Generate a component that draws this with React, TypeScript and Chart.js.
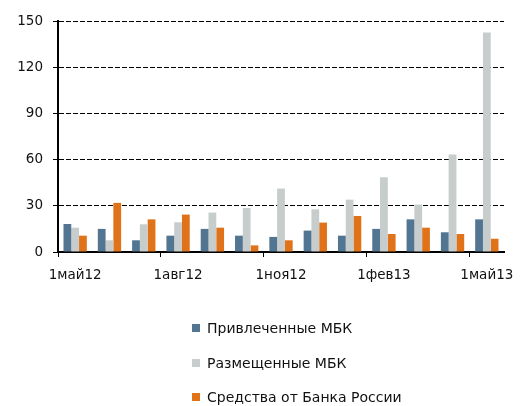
import React, { useEffect, useRef } from 'react';
import { Chart, registerables } from 'chart.js';

Chart.register(...registerables);

const categories = [
  '1май12', '1июн12', '1июл12', '1авг12', '1сен12', '1окт12', '1ноя12',
  '1дек12', '1янв13', '1фев13', '1мар13', '1апр13', '1май13',
];
const attracted = [18.2, 15, 7.6, 10.6, 15, 10.6, 9.8, 13.9, 10.6, 15, 21.2, 12.8, 21.2];
const placed = [15.8, 7.6, 18, 19.3, 25.6, 28.6, 41.2, 27.7, 34, 48.5, 30.8, 63.3, 142.5];
const fromCBR = [10.6, 31.9, 21.2, 24.3, 15.8, 4.3, 7.6, 19.1, 23.4, 11.7, 15.8, 11.7, 8.6];
const seriesNames = ['Привлеченные МБК', 'Размещенные МБК', 'Средства от Банка России'];
const seriesColors = ['#527592', '#C6CDCC', '#E0731A'];
const yMin = 0;
const yMax = 150;
const yStep = 30;
const labelEvery = 3;

const FONT = "'DejaVu Sans', sans-serif";

export default function App() {
  const ref = useRef<HTMLCanvasElement | null>(null);

  useEffect(() => {
    document.body.style.margin = '0';
    const canvas = ref.current;
    if (!canvas) return;
    const values = [attracted, placed, fromCBR];
    const chart = new Chart(canvas, {
      type: 'bar',
      data: {
        labels: categories,
        datasets: values.map((v, i) => ({
          label: seriesNames[i],
          data: v,
          backgroundColor: seriesColors[i],
          borderWidth: 0,
          categoryPercentage: 0.68,
          barPercentage: 1,
        })),
      },
      options: {
        animation: false,
        responsive: false,
        maintainAspectRatio: false,
        layout: { padding: { top: 21, right: 25, left: 0, bottom: 0 } },
        plugins: {
          legend: { display: false },
          tooltip: { enabled: false },
        },
        scales: {
          x: {
            type: 'category',
            offset: true,
            grid: {
              offset: true,
              drawOnChartArea: false,
              drawTicks: true,
              tickLength: 5,
              lineWidth: 1,
              color: (ctx: any) =>
                typeof ctx.index === 'number' && ctx.index % labelEvery === 0 ? '#000' : 'rgba(0,0,0,0)',
            },
            border: { display: true, color: '#000', width: 2 },
            ticks: {
              autoSkip: false,
              maxRotation: 0,
              minRotation: 0,
              padding: 10,
              color: '#111',
              font: { family: FONT, size: 13.5 },
              callback: (_v: any, index: number) => (index % labelEvery === 0 ? categories[index] : ''),
            },
            afterFit: (scale: any) => {
              scale.height = 406 - 252;
            },
          },
          y: {
            min: yMin,
            max: yMax,
            ticks: {
              stepSize: yStep,
              padding: 10,
              color: '#111',
              font: { family: FONT, size: 13.5 },
            },
            grid: {
              display: true,
              drawOnChartArea: true,
              color: '#000',
              lineWidth: 1,
              drawTicks: true,
              tickLength: 5,
              tickColor: '#000',
            },
            border: { display: true, color: '#000', width: 2, dash: [5, 2] },
            afterFit: (scale: any) => {
              scale.width = 58;
            },
          },
        },
      },
    });
    return () => chart.destroy();
  }, []);

  return (
    <div style={{ position: 'absolute', left: 0, top: 0, width: 529, height: 406, background: '#fff' }}>
      <canvas ref={ref} width={529} height={406} style={{ position: 'absolute', left: 0, top: 0, width: 529, height: 406 }} />
      <div style={{ position: 'absolute', left: 192, top: 311, fontFamily: FONT, fontSize: 14, color: '#111' }}>
        {seriesNames.map((name, i) => (
          <div key={name} style={{ display: 'flex', alignItems: 'center', height: 34.5, whiteSpace: 'nowrap' }}>
            <span style={{ display: 'inline-block', width: 8, height: 8, background: seriesColors[i], marginRight: 7 }} />
            <span>{name}</span>
          </div>
        ))}
      </div>
    </div>
  );
}
